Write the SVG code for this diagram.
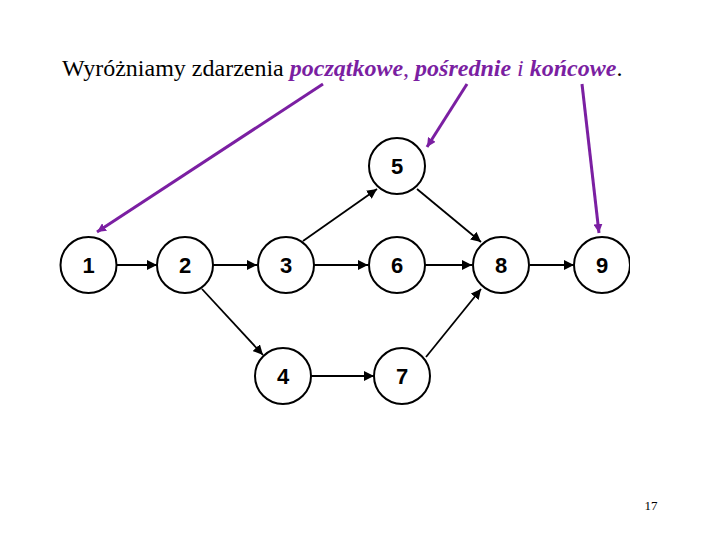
<svg xmlns="http://www.w3.org/2000/svg" width="720" height="540" viewBox="0 0 720 540">
<style>
.node circle{fill:#fff;stroke:#000;stroke-width:2}
.node text{font-family:"Liberation Sans",Arial,sans-serif;font-weight:bold;font-size:22px;text-anchor:middle;fill:#000}
.edge{stroke:#000;stroke-width:1.8;fill:none;marker-end:url(#ah)}
.pedge{stroke:#7b1fa2;stroke-width:3;fill:none;marker-end:url(#ph)}
.hl{fill:#7b1fa2}
</style>
<defs>
<marker id="ah" viewBox="0 0 10 10" refX="10" refY="5" markerWidth="10" markerHeight="10" markerUnits="userSpaceOnUse" orient="auto"><path d="M0,0 L10,5 L0,10 Z" fill="#000"/></marker>
<marker id="ph" viewBox="0 0 10 10" refX="10" refY="5" markerWidth="9" markerHeight="9" markerUnits="userSpaceOnUse" orient="auto"><path d="M0,0 L10,5 L0,10 Z" fill="#7b1fa2"/></marker>
<clipPath id="clip9"><rect x="560" y="220" width="70" height="90"/></clipPath>
</defs>
<rect width="720" height="540" fill="#fff"/>
<text x="62" y="76" font-family="'Liberation Serif','Times New Roman',serif" font-size="24" fill="#000">Wyróżniamy zdarzenia <tspan class="hl" font-weight="bold" font-style="italic">początkowe</tspan><tspan class="hl">, </tspan><tspan class="hl" font-weight="bold" font-style="italic">pośrednie</tspan><tspan class="hl" font-style="italic"> i </tspan><tspan class="hl" font-weight="bold" font-style="italic">końcowe</tspan>.</text>
<g id="connectors">
<line class="edge" x1="117" y1="265" x2="157" y2="265"/>
<line class="edge" x1="213" y1="265" x2="257" y2="265"/>
<line class="edge" x1="202" y1="289" x2="263" y2="355"/>
<line class="edge" x1="303" y1="241" x2="377" y2="189"/>
<line class="edge" x1="314" y1="265" x2="368" y2="265"/>
<line class="edge" x1="311" y1="376" x2="374" y2="376"/>
<line class="edge" x1="417" y1="189" x2="481" y2="242"/>
<line class="edge" x1="425" y1="265" x2="472" y2="265"/>
<line class="edge" x1="426" y1="357" x2="481" y2="289"/>
<line class="edge" x1="530" y1="265" x2="574" y2="265"/>
<line class="pedge" x1="323" y1="84" x2="97" y2="232"/>
<line class="pedge" x1="467" y1="84" x2="427" y2="147"/>
<line class="pedge" x1="582" y1="84" x2="599" y2="233"/>
</g>
<g id="n1" class="node"><circle cx="88.5" cy="265" r="28"/><text x="88.5" y="273">1</text></g>
<g id="n2" class="node"><circle cx="185" cy="265" r="28"/><text x="185" y="273">2</text></g>
<g id="n3" class="node"><circle cx="286" cy="265" r="28"/><text x="286" y="273">3</text></g>
<g id="n4" class="node"><circle cx="283" cy="376" r="28"/><text x="283" y="384">4</text></g>
<g id="n5" class="node"><circle cx="397" cy="166" r="28"/><text x="397" y="174">5</text></g>
<g id="n6" class="node"><circle cx="397" cy="265" r="28"/><text x="397" y="273">6</text></g>
<g id="n7" class="node"><circle cx="402" cy="376" r="28"/><text x="402" y="384">7</text></g>
<g id="n8" class="node"><circle cx="501" cy="265" r="28"/><text x="501" y="273">8</text></g>
<g id="n9" class="node" clip-path="url(#clip9)"><circle cx="602" cy="265" r="28"/><text x="602" y="273">9</text></g>
<text x="651" y="510" font-family="'Liberation Serif','Times New Roman',serif" font-size="13" text-anchor="middle">17</text>
</svg>
